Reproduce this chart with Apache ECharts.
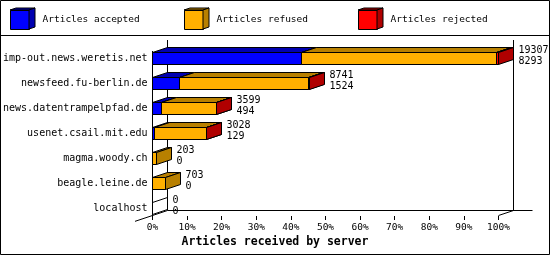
<!DOCTYPE html>
<html><head><meta charset="utf-8">
<script src="https://cdn.jsdelivr.net/npm/echarts@6/dist/echarts.min.js"></script>
<style>html,body{margin:0;padding:0;background:#fff}#c{width:550px;height:255px}</style>
</head><body><div id="c"></div>
<script>
// ---- data ----
const categories = ['imp-out.news.weretis.net','newsfeed.fu-berlin.de','news.datentrampelpfad.de','usenet.csail.mit.edu','magma.woody.ch','beagle.leine.de','localhost'];
const accepted = [8293, 1524, 494, 129, 0, 0, 0];
const refused  = [10904, 7172, 3085, 2884, 203, 703, 0];
const rejected = [110, 45, 20, 15, 0, 0, 0];
const seriesNames = ['Articles accepted', 'Articles refused', 'Articles rejected'];
const tickLabels = ['0%','10%','20%','30%','40%','50%','60%','70%','80%','90%','100%'];
const axisTitle = 'Articles received by server';

// ---- styling ----
const FONT = '"DejaVu Sans Mono", "Liberation Mono", monospace';
const fronts = ['#0000ff', '#ffb000', '#ff0000'];
const darks  = ['#0000b0', '#b88000', '#b00000'];
const DX = 15, DY = -5;
const legendLeft = [10, 184, 358];

const totals = categories.map((c, i) => accepted[i] + refused[i] + rejected[i]);
const maxTotal = Math.max.apply(null, totals);
const pct = v => v / maxTotal * 100;
const snap = v => Math.round(v - 0.5) + 0.5;

const valueSets = [accepted, refused, rejected];
const seriesData = valueSets.map((vals, s) => categories.map((c, i) => {
  let start = 0;
  for (let k = 0; k < s; k++) start += valueSets[k][i];
  return [i, pct(start), pct(start + vals[i]), vals[i], totals[i]];
}));

function makeRender(s) {
  return function (params, api) {
    const cat = api.value(0), a = api.value(1), b = api.value(2), raw = api.value(3), tot = api.value(4);
    const c0 = api.coord([a, cat]), c1 = api.coord([b, cat]);
    const bh = Math.round(api.size([0, 1])[1] * 0.48);
    const yc = c0[1];
    const yt = yc - bh / 2, yb = yc + bh / 2;
    const x0 = snap(c0[0]), x1 = snap(c1[0]);
    const line = { stroke: '#000', lineWidth: 1 };
    if (raw <= 0) {
      if (tot <= 0 && s === 0) {
        return { type: 'polygon', shape: { points: [[x0, yt], [x0 + DX, yt + DY], [x0 + DX, yb + DY], [x0, yb]] },
          style: Object.assign({ fill: 'none' }, line) };
      }
      return null;
    }
    return { type: 'group', children: [
      { type: 'rect', shape: { x: x0, y: yt, width: x1 - x0, height: bh }, style: Object.assign({ fill: fronts[s] }, line) },
      { type: 'polygon', shape: { points: [[x0, yt], [x1, yt], [x1 + DX, yt + DY], [x0 + DX, yt + DY]] }, style: Object.assign({ fill: darks[s] }, line) },
      { type: 'polygon', shape: { points: [[x1, yt], [x1 + DX, yt + DY], [x1 + DX, yb + DY], [x1, yb]] }, style: Object.assign({ fill: darks[s] }, line) }
    ]};
  };
}

const barSeries = seriesNames.map((n, s) => ({
  type: 'custom', name: n, z: 2, clip: false,
  itemStyle: { color: fronts[s] },
  encode: { x: [1, 2], y: 0 },
  renderItem: makeRender(s),
  data: seriesData[s]
}));

const labelSeries = {
  type: 'custom', name: 'labels', z: 3, clip: false, silent: true,
  encode: { x: 1, y: 0 },
  data: categories.map((c, i) => [i, pct(totals[i]), totals[i], accepted[i]]),
  renderItem: function (params, api) {
    const p = api.coord([api.value(1), api.value(0)]);
    const x = snap(p[0]) + DX + 5;
    return { type: 'group', children: [
      { type: 'text', style: { text: String(api.value(2)), x: x, y: p[1] - 8.5, font: '10px ' + FONT, fill: '#000', align: 'left', verticalAlign: 'middle' } },
      { type: 'text', style: { text: String(api.value(3)), x: x, y: p[1] + 2.5, font: '10px ' + FONT, fill: '#000', align: 'left', verticalAlign: 'middle' } }
    ]};
  }
};

const frameSeries = {
  type: 'custom', name: 'frame', z: 1, clip: false, silent: true,
  encode: { x: 1, y: 0 },
  data: [[0, 0]],
  renderItem: function (params, api) {
    const r = params.coordSys;
    const L = r.x, R = r.x + r.width, T = r.y, B = r.y + r.height;
    const st = { stroke: '#000', lineWidth: 1, fill: 'none' };
    const fy = B - 5.5, by = B - 10.5;
    const ln = (x1, y1, x2, y2) => ({ type: 'line', shape: { x1: x1, y1: y1, x2: x2, y2: y2 }, style: st });
    return { type: 'group', children: [
      ln(L, T + 5, L, B - 5),
      ln(L + DX, T - 6, L + DX, by),
      ln(R + DX, T - 6, R + DX, by),
      ln(L + DX, by, R + DX + 19, by),
      ln(L - 17.5, fy + 17.5 * 5 / 15, L + DX, by),
      ln(R, fy, R + DX, by)
    ]};
  }
};

// legend cube side faces
const cubeGraphics = [];
legendLeft.forEach((lx, i) => {
  cubeGraphics.push({ type: 'polygon', z: 10, shape: { points: [[lx, 10], [lx + 19, 10], [lx + 25, 8], [lx + 6, 8]] }, style: { fill: darks[i], stroke: '#000', lineWidth: 1 } });
  cubeGraphics.push({ type: 'polygon', z: 10, shape: { points: [[lx + 19, 10], [lx + 25, 8], [lx + 25, 27], [lx + 19, 29]] }, style: { fill: darks[i], stroke: '#000', lineWidth: 1 } });
});

const chart = echarts.init(document.getElementById('c'), null, { renderer: 'canvas' });
chart.setOption({
  animation: false,
  backgroundColor: '#fff',
  title: { text: axisTitle, left: 'center', top: 236, padding: 0,
    textStyle: { fontFamily: FONT, fontWeight: 'bold', fontSize: 11.5, color: '#000' } },
  legend: seriesNames.map((n, i) => ({
    data: [{ name: n, itemStyle: { color: fronts[i], borderColor: '#000', borderWidth: 1 } }],
    left: legendLeft[i], top: 10, padding: 0, icon: 'rect', itemWidth: 19, itemHeight: 19,
    selectedMode: false,
    textStyle: { fontFamily: FONT, fontSize: 9.5, color: '#000', padding: [0, 0, 0, 8] }
  })),
  grid: { left: 152.5, top: 46, width: 346, height: 175, outerBoundsMode: 'none', containLabel: false },
  xAxis: {
    type: 'value', min: 0, max: 100, interval: 10, offset: -5,
    axisLine: { show: false }, splitLine: { show: false },
    axisTick: { show: true, length: 4, lineStyle: { color: '#000', width: 1 } },
    axisLabel: { margin: 7, color: '#000', fontFamily: FONT, fontSize: 9.5, formatter: (v, i) => tickLabels[Math.round(v / 10)] }
  },
  yAxis: {
    type: 'category', data: categories, inverse: true,
    axisLine: { show: false }, axisTick: { show: false }, splitLine: { show: false },
    axisLabel: { margin: 5, color: '#000', fontFamily: FONT, fontSize: 10 }
  },
  graphic: [
    { type: 'rect', z: 10, silent: true, shape: { x: 0.5, y: 0.5, width: 549, height: 254 }, style: { fill: 'none', stroke: '#000', lineWidth: 1 } },
    { type: 'line', z: 10, silent: true, shape: { x1: 0, y1: 35.5, x2: 550, y2: 35.5 }, style: { stroke: '#000', lineWidth: 1 } }
  ].concat(cubeGraphics),
  series: [frameSeries].concat(barSeries, [labelSeries])
});
</script></body></html>
